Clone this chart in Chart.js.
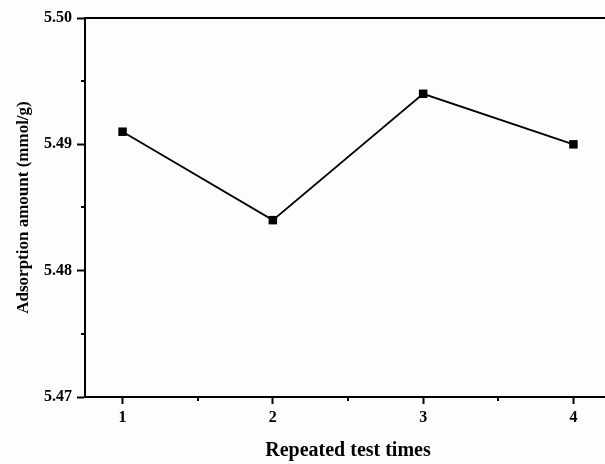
<!DOCTYPE html>
<html>
<head>
<meta charset="utf-8">
<script src="https://cdn.jsdelivr.net/npm/chart.js@4.4.1/dist/chart.umd.min.js"></script>
<style>
  html, body { margin: 0; padding: 0; background: #fdfdfc; overflow: hidden; }
  #wrap { position: relative; width: 620px; height: 464px; }
</style>
</head>
<body>
<div id="wrap"><canvas id="adsChart"></canvas></div>
<script>
// data
const testTimes = [1, 2, 3, 4];
const adsorption = [5.491, 5.484, 5.494, 5.490];
const yTicks = [5.47, 5.48, 5.49, 5.50];

const serif = "'Liberation Serif', 'Times New Roman', serif";

// minor ticks halfway between the major ones + top frame line
const framePlugin = {
  id: "frame",
  afterDraw(c) {
    const ctx = c.ctx;
    const area = c.chartArea;
    const xs = c.scales.x, ys = c.scales.y;
    ctx.save();
    ctx.strokeStyle = "#000";
    ctx.lineWidth = 2;
    ctx.beginPath();
    ctx.moveTo(area.left - 1, area.top);
    ctx.lineTo(area.right, area.top);
    for (let i = 0; i < yTicks.length - 1; i++) {
      const y = Math.round(ys.getPixelForValue((yTicks[i] + yTicks[i + 1]) / 2));
      ctx.moveTo(area.left - 4, y);
      ctx.lineTo(area.left, y);
    }
    for (let i = 0; i < testTimes.length - 1; i++) {
      const x = Math.round(xs.getPixelForValue((testTimes[i] + testTimes[i + 1]) / 2));
      ctx.moveTo(x, area.bottom);
      ctx.lineTo(x, area.bottom + 4);
    }
    ctx.stroke();
    ctx.restore();
  }
};

const ctx = document.getElementById("adsChart");
new Chart(ctx, {
  type: "line",
  data: {
    datasets: [{
      data: testTimes.map((t, i) => ({ x: t, y: adsorption[i] })),
      borderColor: "#000",
      backgroundColor: "#000",
      borderWidth: 1.8,
      pointStyle: "rect",
      pointRadius: 6,
      pointBorderWidth: 0,
      tension: 0,
      fill: false
    }]
  },
  options: {
    responsive: true,
    maintainAspectRatio: false,
    animation: false,
    layout: { padding: { top: 18, right: 9, left: 0, bottom: 0 } },
    plugins: { legend: { display: false }, tooltip: { enabled: false } },
    scales: {
      x: {
        type: "linear",
        min: 0.75,
        max: 4.25,
        afterFit: s => { s.height = 67; },
        afterBuildTicks: s => { s.ticks = testTimes.map(v => ({ value: v })); },
        border: { color: "#000", width: 2 },
        grid: { drawOnChartArea: false, tickLength: 7, tickWidth: 2, tickColor: "#000" },
        ticks: {
          color: "#000",
          padding: 4,
          maxRotation: 0,
          font: { family: serif, size: 16, weight: "bold" },
          callback: v => String(v)
        },
        title: {
          display: true,
          text: "Repeated test times",
          color: "#000",
          padding: { top: 0, bottom: 1 },
          font: { family: serif, size: 20, weight: "bold" }
        }
      },
      y: {
        min: 5.47,
        max: 5.50,
        afterFit: s => { s.width = 85; },
        afterBuildTicks: s => { s.ticks = yTicks.map(v => ({ value: v })); },
        border: { color: "#000", width: 2 },
        grid: { drawOnChartArea: false, tickLength: 8, tickWidth: 2, tickColor: "#000" },
        ticks: {
          color: "#000",
          padding: 5,
          font: { family: serif, size: 16, weight: "bold" },
          callback: v => Number(v).toFixed(2)
        },
        title: {
          display: true,
          text: "Adsorption amount (mmol/g)",
          color: "#000",
          padding: { top: 13, bottom: 0 },
          font: { family: serif, size: 17, weight: "bold" }
        }
      }
    }
  },
  plugins: [framePlugin]
});
</script>
</body>
</html>
